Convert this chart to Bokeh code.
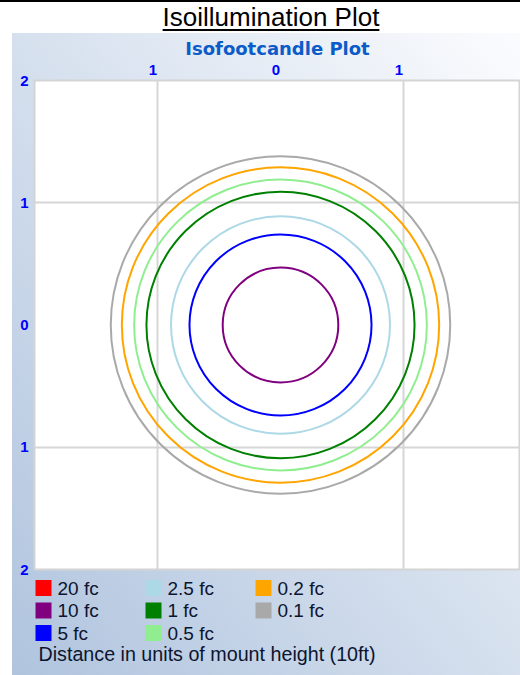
from bokeh.plotting import figure
from bokeh.layouts import column
from bokeh.models import (Range1d, FixedTicker, CustomJSTickFormatter, ColumnDataSource, Div)
from bokeh.core.properties import value
from bokeh.embed import file_html
from bokeh.resources import INLINE

# ---- data ----
levels = ["20 fc", "10 fc", "5 fc", "2.5 fc", "1 fc", "0.5 fc", "0.2 fc", "0.1 fc"]
colors = ["#ff0000", "#800080", "#0000ff", "#add8e6", "#008000", "#90ee90", "#ffa500", "#a9a9a9"]
# radius of each isofootcandle contour (units of mount height); 20 fc has no contour
radii = [None, 0.47, 0.74, 0.89, 1.09, 1.19, 1.29, 1.38]
x_ticks = [-1, 0, 1]
y_ticks = [-2, -1, 0, 1, 2]
grid_ticks = [-1, 1]
title = "Isoillumination Plot"
subtitle = "Isofootcandle Plot"
axis_note = "Distance in units of mount height (10ft)"

# ---- geometry ----
PAGE_W, PAGE_H = 520, 675
TITLE_H = 33
BL, BT, BR, BB = 34, 46, 0, 9
FH = 490
MAIN_H = BT + FH + BB
FOOT_TOP = TITLE_H + MAIN_H
FOOT_H = PAGE_H - FOOT_TOP
FW = PAGE_W - BL - BR
UX = 123.0
XMIN = -2.0
XMAX = XMIN + FW / UX
LABEL_SHIFT = 4.5 / UX          # top tick labels sit slightly left of the grid lines
GRAD = "linear-gradient(to top right, #b0c4de, #fbfcfe)"
PANEL_W, PANEL_H = PAGE_W - 12, PAGE_H - TITLE_H

head = Div(text=f'<div style="font-family:\'Liberation Sans\',Arial,sans-serif;font-size:26px;'
                f'line-height:30px;text-align:center;color:#000;text-decoration:underline;'
                f'text-decoration-thickness:2px;text-underline-offset:3px;'
                f'border-top:2px solid #000;width:{PAGE_W}px;height:{TITLE_H - 2}px;'
                f'padding-left:22px;box-sizing:border-box;">{title}</div>',
           width=PAGE_W, height=TITLE_H, margin=0)

p = figure(width=PAGE_W, height=MAIN_H, x_range=Range1d(XMIN, XMAX), y_range=Range1d(-2, 2),
           x_axis_location="above", output_backend="svg", toolbar_location=None,
           min_border_left=BL, min_border_right=BR, min_border_top=BT, min_border_bottom=BB,
           margin=0)
p.extra_x_ranges = {"labels": Range1d(XMIN + LABEL_SHIFT, XMAX + LABEL_SHIFT)}
p.border_fill_color = None
p.background_fill_color = "#ffffff"
p.outline_line_color = "#d4d4d4"
p.outline_line_width = 2
p.styles = {
    "background-image": GRAD,
    "background-position": "12px 0px",
    "background-size": f"{PANEL_W}px {PANEL_H}px",
    "background-repeat": "no-repeat",
}

# subtitle
p.title.text = subtitle
p.title.align = "center"
p.title.offset = -5
p.title.text_font = "DejaVu Sans"
p.title.text_font_style = "bold"
p.title.text_font_size = "18px"
p.title.text_color = "#0b5cc8"
p.title.standoff = 5

fmt = CustomJSTickFormatter(code="return Math.abs(tick).toString()")
for ax, tk in ((p.xaxis[0], x_ticks), (p.yaxis[0], y_ticks)):
    ax.ticker = FixedTicker(ticks=tk)
    ax.formatter = fmt
    ax.axis_line_color = None
    ax.major_tick_line_color = None
    ax.minor_tick_line_color = None
    ax.major_tick_out = 0
    ax.major_tick_in = 0
    ax.major_label_text_color = "#0000ff"
    ax.major_label_text_font = "Liberation Sans"
    ax.major_label_text_font_style = "bold"
    ax.major_label_text_font_size = "15px"
p.xaxis[0].x_range_name = "labels"
p.xaxis[0].major_label_standoff = 6
p.yaxis[0].major_label_standoff = 6

p.xgrid.ticker = FixedTicker(ticks=grid_ticks)
p.ygrid.ticker = FixedTicker(ticks=grid_ticks)
for g in (p.xgrid[0], p.ygrid[0]):
    g.grid_line_color = "#d6d6d6"
    g.grid_line_width = 2

# contours
cl = [c for c, r in zip(colors, radii) if r is not None]
cr = [r for r in radii if r is not None]
src = ColumnDataSource(dict(x=[0.0] * len(cr), y=[0.0] * len(cr),
                            d=[2 * r for r in cr], c=cl))
p.ellipse(x="x", y="y", width="d", height="d", source=src, fill_color=None,
          line_color="c", line_width=2)

# ---- legend / note panel (pixel-scaled figure below the plot, page coordinates) ----
foot = figure(width=PAGE_W, height=FOOT_H, x_range=Range1d(BL, PAGE_W),
              y_range=Range1d(PAGE_H, FOOT_TOP),
              x_axis_location=None, y_axis_location=None, output_backend="svg",
              toolbar_location=None, min_border=0, min_border_left=BL, min_border_right=0,
              min_border_top=0, min_border_bottom=0, margin=0)
foot.border_fill_color = None
foot.background_fill_color = None
foot.outline_line_color = None
foot.xgrid.visible = False
foot.ygrid.visible = False
foot.styles = {
    "background-image": GRAD,
    "background-position": f"12px {-MAIN_H}px",
    "background-size": f"{PANEL_W}px {PANEL_H}px",
    "background-repeat": "no-repeat",
}

COL_X0, COL_DX = 35, 110      # left edge of first swatch, column pitch
ROW_Y0, ROW_DY = 579.5, 22.5  # top of first swatch, row pitch
SW = 16
TXT_ADJ = -8                  # baseline correction for text glyphs
sx, sy, tx, ty = [], [], [], []
for i in range(len(levels)):
    ci, ri = divmod(i, 3)
    left = COL_X0 + ci * COL_DX
    top = ROW_Y0 + ri * ROW_DY
    sx.append(left + SW / 2)
    sy.append(top + SW / 2)
    tx.append(left + SW + 6)
    ty.append(top + SW + TXT_ADJ)
leg = ColumnDataSource(dict(sx=sx, sy=sy, tx=tx, ty=ty, label=levels, color=colors))
foot.rect(x="sx", y="sy", width=SW, height=SW, source=leg, fill_color="color", line_color=None)
foot.text(x="tx", y="ty", text="label", source=leg, text_font=value("Liberation Sans"),
          text_font_size=value("19px"), text_color="#0c1530", text_align="left",
          text_baseline="alphabetic")
foot.text(x=[38], y=[661 + TXT_ADJ], text=[axis_note], text_font=value("Liberation Sans"),
          text_font_size=value("19.7px"), text_color="#0c1530", text_align="left",
          text_baseline="alphabetic")

layout = column(head, p, foot, spacing=0, margin=0)
open("out.html", "w").write(file_html(layout, INLINE))
